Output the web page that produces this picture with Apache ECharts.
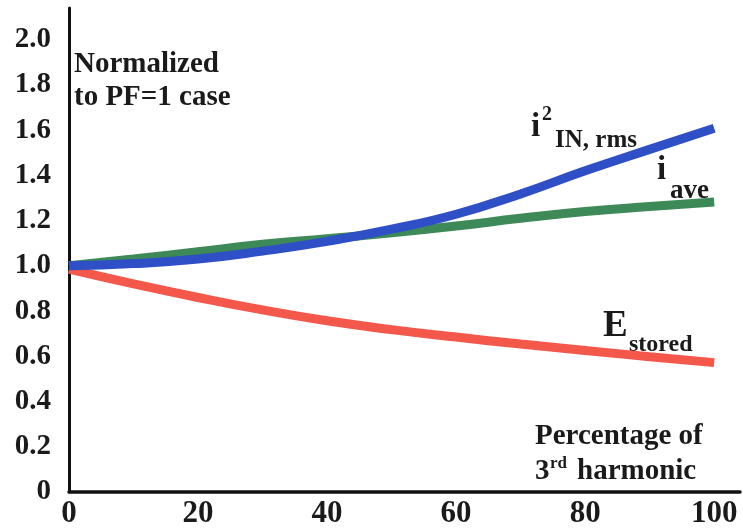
<!DOCTYPE html>
<html>
<head>
<meta charset="utf-8">
<script src="https://cdn.jsdelivr.net/npm/echarts@6/dist/echarts.min.js"></script>
<style>
  html, body { margin: 0; padding: 0; background: #fff; }
  #chart { width: 743px; height: 529px; }
</style>
</head>
<body>
<div id="chart"></div>
<script>
// Percentage of 3rd harmonic (x) and normalized quantities (y)
const harmonicPct = [0, 10, 20, 30, 40, 50, 60, 70, 80, 90, 100];
const iRmsSquared = [1.0, 1.01, 1.03, 1.065, 1.108, 1.162, 1.228, 1.318, 1.42, 1.515, 1.608];
const iAverage    = [1.0, 1.03, 1.062, 1.095, 1.12, 1.146, 1.176, 1.21, 1.24, 1.262, 1.282];
const eStored     = [0.985, 0.92, 0.86, 0.805, 0.757, 0.718, 0.685, 0.654, 0.626, 0.598, 0.572];
const yTicks = [0, 0.2, 0.4, 0.6, 0.8, 1.0, 1.2, 1.4, 1.6, 1.8, 2.0];

const SERIF = '"Liberation Serif", "Times New Roman", serif';
const pairs = (ys) => harmonicPct.map((x, i) => [x, ys[i]]);

const chart = echarts.init(document.getElementById('chart'));

function label(text, left, cy, size) {
  return {
    type: 'text', left: left, top: cy - size / 2,
    style: { text: text, font: 'bold ' + size + 'px ' + SERIF, fill: '#1a1a1a' }
  };
}

chart.setOption({
  animation: false,
  backgroundColor: '#ffffff',
  grid: { left: 69, right: 3, top: 8, bottom: 35 },
  xAxis: {
    type: 'value', min: 0, max: 104, interval: 20,
    axisLine: { show: true, lineStyle: { color: '#111', width: 3.5 } },
    axisTick: { show: false },
    splitLine: { show: false },
    axisLabel: {
      showMaxLabel: false, margin: 6,
      fontFamily: SERIF, fontWeight: 'bold', fontSize: 31, color: '#1a1a1a'
    }
  },
  yAxis: {
    type: 'value', min: 0, max: 2.14, interval: 0.2,
    axisLine: { show: true, lineStyle: { color: '#111', width: 3 } },
    axisTick: { show: false },
    splitLine: { show: false },
    axisLabel: {
      showMaxLabel: false, margin: 18,
      fontFamily: SERIF, fontWeight: 'bold', fontSize: 29, color: '#1a1a1a',
      formatter: (v) => {
        const t = yTicks.find((k) => Math.abs(k - v) < 1e-6);
        if (t === undefined) return '';
        return t === 0 ? '0' : t.toFixed(1);
      }
    }
  },
  series: [
    { name: 'E_stored', type: 'line', data: pairs(eStored), smooth: true, showSymbol: false,
      lineStyle: { color: '#f4584b', width: 9, cap: 'butt' } },
    { name: 'i_ave', type: 'line', data: pairs(iAverage), smooth: true, showSymbol: false,
      lineStyle: { color: '#3d8a58', width: 9, cap: 'butt' } },
    { name: 'i2_IN,rms', type: 'line', data: pairs(iRmsSquared), smooth: true, showSymbol: false,
      lineStyle: { color: '#2f4fc6', width: 9, cap: 'butt' } }
  ],
  graphic: [
    label('Normalized', 74, 65, 29),
    label('to PF=1 case', 74, 98, 29),
    label('Percentage of', 535, 437, 29),
    label('3', 535, 472, 29),
    label('rd', 550, 464, 17),
    label('harmonic', 577, 472, 29),
    label('i', 531, 127, 33),
    label('2', 542, 115, 20),
    label('IN, rms', 555, 141, 25),
    label('i', 657, 170, 33),
    label('ave', 670, 191, 27),
    label('E', 603, 326, 37),
    label('stored', 629, 345, 24)
  ]
});
</script>
</body>
</html>
